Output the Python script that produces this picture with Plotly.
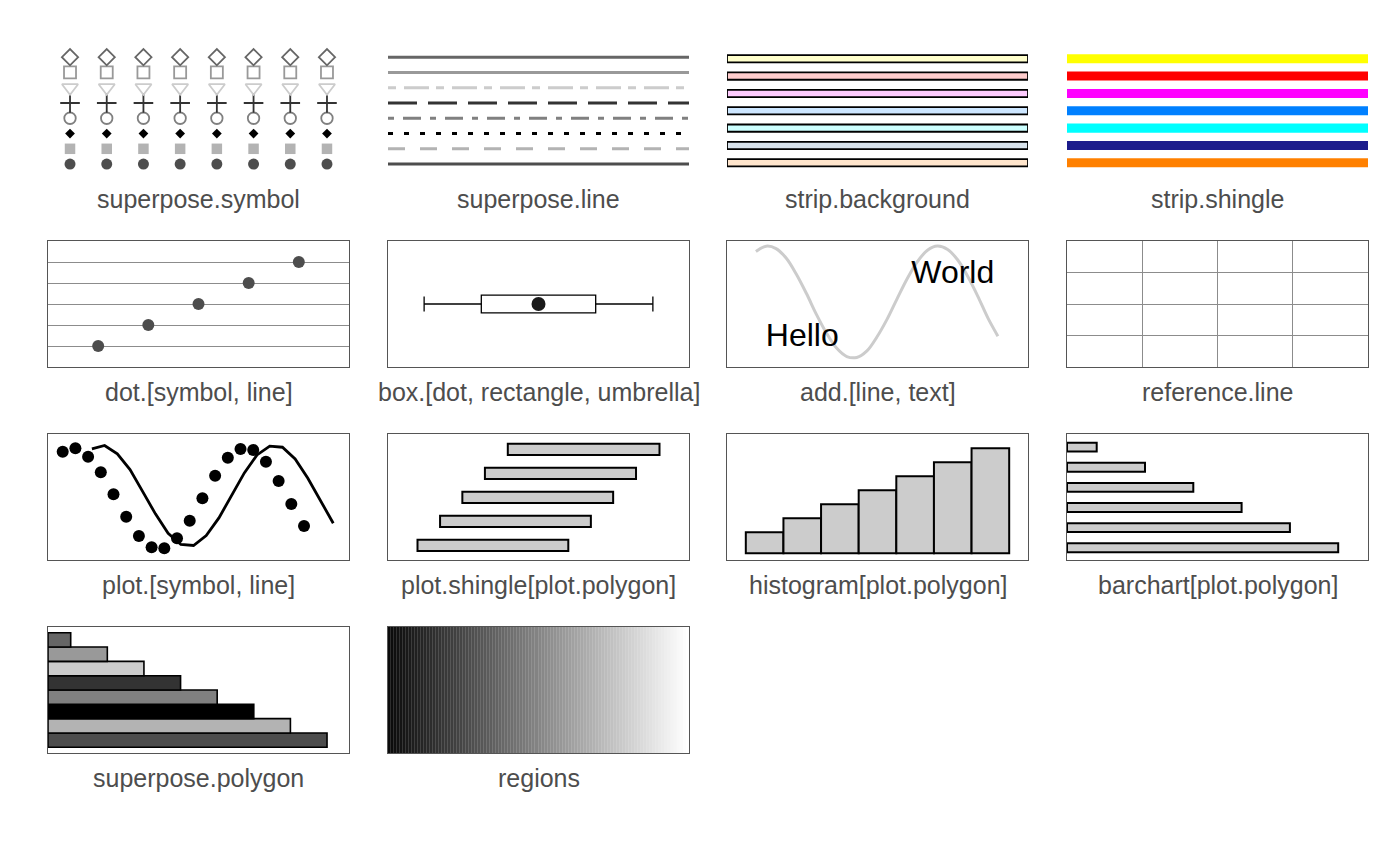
import plotly.graph_objects as go

# ---------------- data ----------------
panel_labels = ["superpose.symbol", "superpose.line", "strip.background", "strip.shingle",
                "dot.[symbol, line]", "box.[dot, rectangle, umbrella]", "add.[line, text]", "reference.line",
                "plot.[symbol, line]", "plot.shingle[plot.polygon]", "histogram[plot.polygon]", "barchart[plot.polygon]",
                "superpose.polygon", "regions"]

symbol_columns = [1, 2, 3, 4, 5, 6, 7, 8]
symbol_levels = [1, 2, 3, 4, 5, 6, 7, 8]
line_levels = [1, 2, 3, 4, 5, 6, 7, 8]
line_extent = [0, 1]
strip_levels = [1, 2, 3, 4, 5, 6, 7]
strip_start = 0
strip_length = 1

dot_values = [1, 2, 3, 4, 5]
dot_levels = [1, 2, 3, 4, 5]

box_stats = [1.2, 3.1, 5.0, 6.9, 8.8]   # min, q1, median, q3, max
box_level = 1

add_line_x = [0.096, 0.130, 0.163, 0.197, 0.230, 0.264, 0.297, 0.331, 0.364, 0.398, 0.431, 0.465, 0.498,
              0.532, 0.565, 0.599, 0.632, 0.666, 0.699, 0.733, 0.766, 0.800, 0.833, 0.867, 0.900]
add_line_y = [0.917, 0.959, 0.940, 0.863, 0.738, 0.583, 0.418, 0.267, 0.150, 0.083, 0.076, 0.128, 0.238,
              0.380, 0.541, 0.702, 0.834, 0.927, 0.960, 0.933, 0.851, 0.718, 0.563, 0.388, 0.245]
add_text = ["Hello", "World"]
add_text_x = [0.25, 0.75]
add_text_y = [0.228, 0.728]

reference_ticks = [1, 2, 3]

plot_symbol_x = [1, 2, 3, 4, 5, 6, 7, 8, 9, 10, 11, 12, 13, 14, 15, 16, 17, 18, 19, 20]
plot_symbol_y = [0.860, 0.887, 0.820, 0.696, 0.521, 0.344, 0.190, 0.101, 0.093, 0.172,
                 0.312, 0.490, 0.669, 0.812, 0.881, 0.873, 0.780, 0.627, 0.444, 0.270]
plot_line_x = [3.3, 4.3, 5.3, 6.3, 7.3, 8.3, 9.3, 10.3, 11.3, 12.3,
               13.3, 14.3, 15.3, 16.3, 17.3, 18.3, 19.3, 20.3, 21.3, 22.3]
plot_line_y = [0.882, 0.909, 0.842, 0.718, 0.543, 0.366, 0.212, 0.123, 0.115, 0.194,
               0.334, 0.512, 0.691, 0.834, 0.903, 0.895, 0.802, 0.649, 0.466, 0.292]

shingle_levels = [1, 2, 3, 4, 5]
shingle_start = [0.098, 0.173, 0.247, 0.322, 0.398]
shingle_end = [0.599, 0.674, 0.748, 0.824, 0.902]

hist_mids = [1, 2, 3, 4, 5, 6, 7]
hist_heights = [3, 5, 7, 9, 11, 13, 15]

barchart_levels = [1, 2, 3, 4, 5, 6]
barchart_values = [6, 5, 4, 3, 2, 1]
barchart_origin = 0.385

polygon_levels = [1, 2, 3, 4, 5, 6, 7, 8]
polygon_values = [8, 7, 6, 5, 4, 3, 2, 1]
polygon_origin = 0.38

region_levels = list(range(1, 101))

# ---------------- styles ----------------
symbol_styles = [  # bottom -> top
    dict(symbol="circle", color="#4D4D4D", size=11, lw=0),
    dict(symbol="square", color="#B3B3B3", size=10.5, lw=0),
    dict(symbol="diamond", color="#000000", size=7.5, lw=0),
    dict(symbol="circle-open", color="#808080", size=11.5, lw=1.8),
    dict(symbol="cross-thin-open", color="#333333", size=14, lw=1.8),
    dict(symbol="triangle-down-open", color="#CCCCCC", size=14, lw=1.8),
    dict(symbol="square-open", color="#999999", size=12, lw=1.8),
    dict(symbol="diamond-open", color="#666666", size=12.5, lw=1.8),
]
line_styles = [  # bottom -> top
    dict(color="#4D4D4D", dash="solid"),
    dict(color="#B3B3B3", dash="17px,15px"),
    dict(color="#000000", dash="5px,11px"),
    dict(color="#808080", dash="6px,9px,18px,9px"),
    dict(color="#333333", dash="29px,11px"),
    dict(color="#CCCCCC", dash="8px,8px,25px,7px"),
    dict(color="#999999", dash="solid"),
    dict(color="#666666", dash="solid"),
]
strip_bg_colors = ["#FFE5CC", "#D9E3EC", "#CCFFFF", "#CCE6FF", "#FFCCFF", "#FFCCCC", "#FFFFCC"]
strip_shingle_colors = ["#FF8000", "#1C1C8C", "#00FFFF", "#0080FF", "#FF00FF", "#FF0000", "#FFFF00"]
polygon_colors = ["#4D4D4D", "#B3B3B3", "#000000", "#808080", "#333333", "#CCCCCC", "#999999", "#666666"]

OFF = 8  # page body margin
COLS = [(48, 349), (388, 689), (727, 1028), (1067, 1368)]
ROWS = [(48, 174), (241, 367), (434, 560), (627, 753)]
W, H = 1400, 866
BORDER = "#555555"
LABEL_FONT = "Liberation Sans, Arial, sans-serif"

fig = go.Figure()
layout = dict(width=W, height=H, margin=dict(l=0, r=0, t=0, b=0),
              paper_bgcolor="white", plot_bgcolor="white", showlegend=False, annotations=[])

ranges = {
    1: ([0.4, 8.6], [0.35, 8.6]),
    2: ([0, 1], [0.35, 8.6]),
    3: ([0, 1], [0.355, 7.62]),
    4: ([0, 1], [0.355, 7.62]),
    5: ([0, 6], [0, 6]),
    6: ([0, 10], [0, 2]),
    7: ([0, 1], [0, 1]),
    8: ([0, 4], [0, 4]),
    9: ([-0.157, 23.54], [0, 1]),
    10: ([0, 1], [0.39, 5.64]),
    11: ([0, 8], [-0.96, 17.04]),
    12: ([barchart_origin, barchart_origin + 6.232], [0.39, 6.65]),
    13: ([polygon_origin, polygon_origin + 8.22], [0.1, 8.9]),
    14: ([0.5, 100.5], [0, 1]),
}

for i in range(14):
    n = i + 1
    c, r = i % 4, i // 4
    x0, x1 = [v - OFF for v in COLS[c]]
    y0, y1 = [v - OFF for v in ROWS[r]]
    boxed = r > 0
    xr, yr = ranges[n]
    ax = dict(domain=[x0 / W, x1 / W], range=xr, showticklabels=False, ticks="", zeroline=False,
              showgrid=False, showline=boxed, mirror=boxed, linecolor=BORDER, linewidth=1.3,
              anchor="y" + (str(n) if n > 1 else ""), fixedrange=True)
    ay = dict(domain=[1 - y1 / H, 1 - y0 / H], range=yr, showticklabels=False, ticks="", zeroline=False,
              showgrid=False, showline=boxed, mirror=boxed, linecolor=BORDER, linewidth=1.3,
              anchor="x" + (str(n) if n > 1 else ""), fixedrange=True)
    layout["xaxis" + (str(n) if n > 1 else "")] = ax
    layout["yaxis" + (str(n) if n > 1 else "")] = ay
    layout["annotations"].append(dict(
        text=panel_labels[i], xref="paper", yref="paper", x=(x0 + x1) / 2 / W,
        y=1 - (y1 + 25) / H, xanchor="center", yanchor="middle", showarrow=False,
        font=dict(family=LABEL_FONT, size=25, color="#4D4D4D")))

def axn(n):
    return ("x" + (str(n) if n > 1 else ""), "y" + (str(n) if n > 1 else ""))

# 1 superpose.symbol
xa, ya = axn(1)
for lvl, st in zip(symbol_levels, symbol_styles):
    fig.add_trace(go.Scatter(x=symbol_columns, y=[lvl] * len(symbol_columns), mode="markers",
                             xaxis=xa, yaxis=ya, cliponaxis=False,
                             marker=dict(symbol=st["symbol"], color=st["color"], size=st["size"],
                                         line=dict(color=st["color"], width=st["lw"]))))
# 2 superpose.line
xa, ya = axn(2)
for lvl, st in zip(line_levels, line_styles):
    fig.add_trace(go.Scatter(x=line_extent, y=[lvl, lvl], mode="lines", xaxis=xa, yaxis=ya,
                             line=dict(color=st["color"], width=3, dash=st["dash"])))
# 3 strip.background
xa, ya = axn(3)
fig.add_trace(go.Bar(y=strip_levels, x=[strip_length] * len(strip_levels), base=strip_start,
                     orientation="h", width=0.42, xaxis=xa, yaxis=ya, cliponaxis=False,
                     marker=dict(color=strip_bg_colors, line=dict(color="black", width=1.8))))
# 4 strip.shingle
xa, ya = axn(4)
fig.add_trace(go.Bar(y=strip_levels, x=[strip_length] * len(strip_levels), base=strip_start,
                     orientation="h", width=0.52, xaxis=xa, yaxis=ya, cliponaxis=False,
                     marker=dict(color=strip_shingle_colors, line=dict(width=0))))
# 5 dot
xa, ya = axn(5)
layout["yaxis5"].update(showgrid=True, tickvals=dot_levels, gridcolor="#8C8C8C", gridwidth=1.3)
fig.add_trace(go.Scatter(x=dot_values, y=dot_levels, mode="markers", xaxis=xa, yaxis=ya,
                         marker=dict(color="#4D4D4D", size=12)))
# 6 box
xa, ya = axn(6)
mn, q1, md, q3, mx = box_stats
fig.add_trace(go.Scatter(x=[mn, q1, None, q3, mx], y=[box_level, box_level, None, box_level, box_level],
                         mode="lines", xaxis=xa, yaxis=ya, line=dict(color="black", width=1.3)))
fig.add_trace(go.Scatter(x=[mn, mn, None, mx, mx],
                         y=[box_level - 0.12, box_level + 0.12, None, box_level - 0.12, box_level + 0.12],
                         mode="lines", xaxis=xa, yaxis=ya, line=dict(color="black", width=1.3)))
fig.add_trace(go.Bar(y=[box_level], x=[q3 - q1], base=q1, orientation="h", width=0.28,
                     xaxis=xa, yaxis=ya, marker=dict(color="rgba(0,0,0,0)", line=dict(color="black", width=1.3))))
fig.add_trace(go.Scatter(x=[md], y=[box_level], mode="markers", xaxis=xa, yaxis=ya,
                         marker=dict(color="#1A1A1A", size=14)))
# 7 add
xa, ya = axn(7)
fig.add_trace(go.Scatter(x=add_line_x, y=add_line_y, mode="lines", xaxis=xa, yaxis=ya,
                         line=dict(color="#CCCCCC", width=3, shape="spline")))
fig.add_trace(go.Scatter(x=add_text_x, y=add_text_y, text=add_text, mode="text", xaxis=xa, yaxis=ya,
                         textfont=dict(family=LABEL_FONT, size=32, color="black")))
# 8 reference
layout["xaxis8"].update(showgrid=True, tickvals=reference_ticks, gridcolor="#8C8C8C", gridwidth=1.3)
layout["yaxis8"].update(showgrid=True, tickvals=reference_ticks, gridcolor="#8C8C8C", gridwidth=1.3)
xa, ya = axn(8)
fig.add_trace(go.Scatter(x=[None], y=[None], xaxis=xa, yaxis=ya, mode="markers"))
# 9 plot symbol/line
xa, ya = axn(9)
fig.add_trace(go.Scatter(x=plot_line_x, y=plot_line_y, mode="lines", xaxis=xa, yaxis=ya,
                         line=dict(color="black", width=2.8)))
fig.add_trace(go.Scatter(x=plot_symbol_x, y=plot_symbol_y, mode="markers", xaxis=xa, yaxis=ya,
                         marker=dict(color="black", size=12)))
# 10 plot.shingle
xa, ya = axn(10)
fig.add_trace(go.Bar(y=shingle_levels, x=[e - s for s, e in zip(shingle_start, shingle_end)],
                     base=shingle_start, orientation="h", width=0.46, xaxis=xa, yaxis=ya,
                     marker=dict(color="#CCCCCC", line=dict(color="black", width=2))))
# 11 histogram
xa, ya = axn(11)
fig.add_trace(go.Bar(x=hist_mids, y=hist_heights, width=1, xaxis=xa, yaxis=ya,
                     marker=dict(color="#CCCCCC", line=dict(color="black", width=2))))
# 12 barchart
xa, ya = axn(12)
fig.add_trace(go.Bar(y=barchart_levels, x=[v - barchart_origin for v in barchart_values],
                     base=barchart_origin, orientation="h", width=0.44, xaxis=xa, yaxis=ya, cliponaxis=False,
                     marker=dict(color="#CCCCCC", line=dict(color="black", width=2))))
# 13 superpose.polygon
xa, ya = axn(13)
fig.add_trace(go.Bar(y=polygon_levels, x=[v - polygon_origin for v in polygon_values],
                     base=polygon_origin, orientation="h", width=1, xaxis=xa, yaxis=ya, cliponaxis=False,
                     marker=dict(color=polygon_colors, line=dict(color="black", width=1.6))))
# 14 regions
xa, ya = axn(14)
fig.add_trace(go.Heatmap(z=[region_levels], x=region_levels, y=[0.5], xaxis=xa, yaxis=ya,
                         colorscale=[[0, "#0A0A0A"], [1, "#FFFFFF"]], showscale=False, dy=1, xgap=0.15))

layout["barmode"] = "overlay"
fig.update_layout(**layout)
fig.write_html("out.html")
